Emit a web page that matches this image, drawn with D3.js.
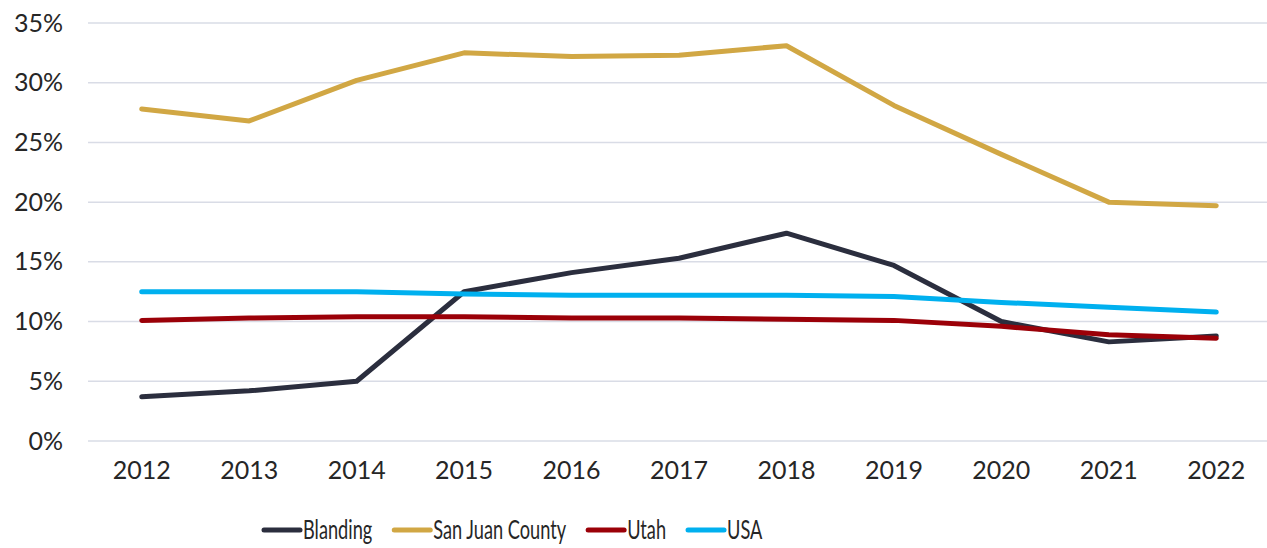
<!DOCTYPE html>
<html>
<head>
<meta charset="utf-8">
<script src="https://cdn.jsdelivr.net/npm/d3@7"></script>
<style>
  html, body { margin: 0; padding: 0; background: #fff; }
  svg { display: block; }
  text { font-family: Lato, "Open Sans", sans-serif; font-weight: 400; fill: #262626; }
</style>
</head>
<body>
<svg id="chart" width="1267" height="548"></svg>
<script>
// Share of residents (%) by year
const years = [2012, 2013, 2014, 2015, 2016, 2017, 2018, 2019, 2020, 2021, 2022];
const blanding      = [3.7, 4.2, 5.0, 12.5, 14.1, 15.3, 17.4, 14.7, 10.0, 8.3, 8.8];
const sanJuanCounty = [27.8, 26.8, 30.2, 32.5, 32.2, 32.3, 33.1, 28.1, 24.0, 20.0, 19.7];
const utah          = [10.1, 10.3, 10.4, 10.4, 10.3, 10.3, 10.2, 10.1, 9.6, 8.9, 8.6];
const usa           = [12.5, 12.5, 12.5, 12.3, 12.2, 12.2, 12.2, 12.1, 11.6, 11.2, 10.8];
const yTicks = [0, 5, 10, 15, 20, 25, 30, 35];

const series = [
  { name: "Blanding",        values: blanding,      color: "#2b2e3e" },
  { name: "San Juan County", values: sanJuanCounty, color: "#d1a744" },
  { name: "Utah",            values: utah,          color: "#9b0008" },
  { name: "USA",             values: usa,           color: "#00b0ef" }
];

const svg = d3.select("#chart");
const margin = { top: 23, right: -3, bottom: 107, left: 88 };
const width = 1267 - margin.left - margin.right;
const height = 548 - margin.top - margin.bottom;

const g = svg.append("g").attr("transform", `translate(${margin.left},${margin.top})`);

const x = d3.scaleBand().domain(years).range([0, width]);
const y = d3.scaleLinear().domain([0, 35]).range([height, 0]);
const xc = d => x(d) + x.bandwidth() / 2;

// horizontal gridlines
g.append("g")
  .selectAll("line")
  .data(yTicks)
  .join("line")
  .attr("x1", 0).attr("x2", width)
  .attr("y1", d => y(d)).attr("y2", d => y(d))
  .attr("stroke", "#d9dce6")
  .attr("stroke-width", 1.5);

// y axis labels
const yAxis = g.append("g")
  .call(d3.axisLeft(y).tickValues(yTicks).tickFormat(d => d + "%").tickSize(0).tickPadding(25));
yAxis.select(".domain").remove();
yAxis.selectAll("text")
  .style("font-family", "Lato, sans-serif")
  .style("font-size", "25px")
  .attr("fill", "#262626");

// x axis labels
const xAxis = g.append("g")
  .attr("transform", `translate(0,${height})`)
  .call(d3.axisBottom(x).tickSize(0).tickPadding(20));
xAxis.select(".domain").remove();
xAxis.selectAll("text")
  .style("font-family", "Lato, sans-serif")
  .style("font-size", "25px")
  .attr("fill", "#262626");

// series lines
const line = d3.line()
  .x((d, i) => xc(years[i]))
  .y(d => y(d));

g.append("g")
  .selectAll("path")
  .data(series)
  .join("path")
  .attr("d", s => line(s.values))
  .attr("fill", "none")
  .attr("stroke", s => s.color)
  .attr("stroke-width", 5)
  .attr("stroke-linejoin", "round")
  .attr("stroke-linecap", "round");

// legend
const legend = svg.append("g").attr("transform", "translate(264,530)");
const condense = 0.70;
let offset = 0;
series.forEach(s => {
  const item = legend.append("g").attr("transform", `translate(${offset},0)`);
  item.append("line")
    .attr("x1", 0).attr("x2", 36)
    .attr("y1", 0).attr("y2", 0)
    .attr("stroke", s.color)
    .attr("stroke-width", 5)
    .attr("stroke-linecap", "round");
  const t = item.append("text")
    .attr("transform", `translate(39,0) scale(${condense},1)`)
    .attr("dy", "0.35em")
    .style("font-size", "26px")
    .text(s.name);
  const w = t.node().getComputedTextLength() * condense;
  offset += 39 + w + 22;
});
</script>
</body>
</html>
